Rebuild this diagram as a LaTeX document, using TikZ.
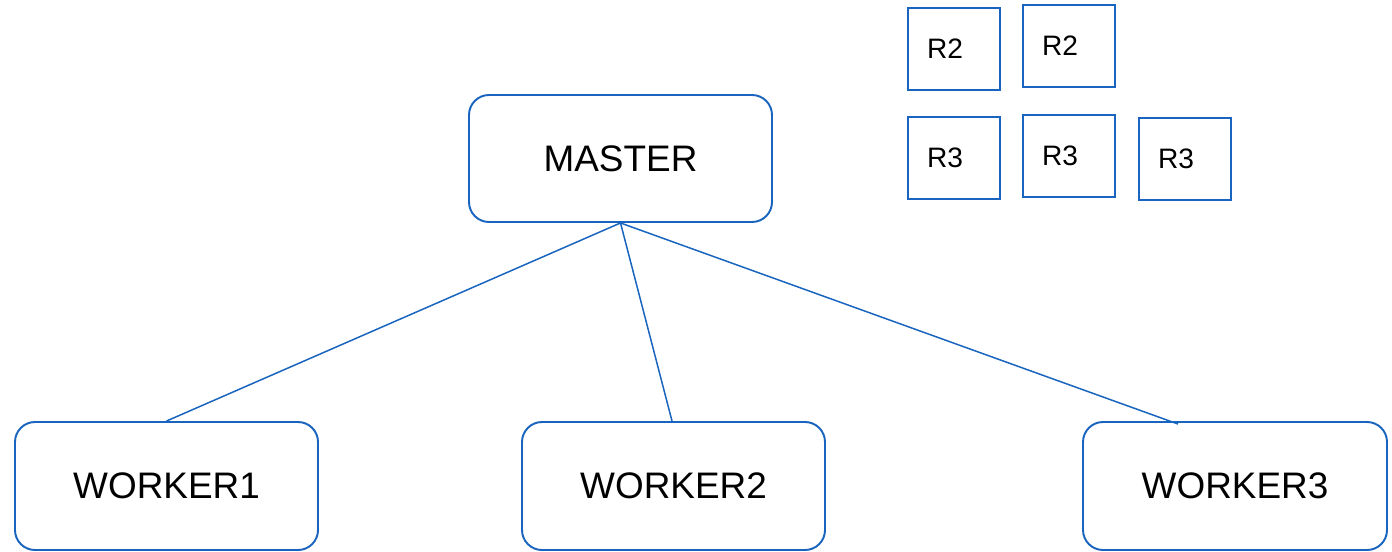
\documentclass[tikz,border=0pt]{standalone}
\usepackage{fontspec}
\setmainfont{Liberation Sans}
\definecolor{mwLine}{RGB}{25,100,190}
\usetikzlibrary{positioning}

\begin{document}
\begin{tikzpicture}[
    rolebox/.style={draw=mwLine, line width=1.1pt, rounded corners=0.4cm, fill=white,
        minimum width=6.06cm, minimum height=2.56cm, font=\fontsize{21}{25}\selectfont},
    rbox/.style={draw=mwLine, line width=1.1pt, fill=white, inner xsep=0.38cm,
        text width=1.08cm, align=left, minimum height=1.64cm, font=\fontsize{16}{19}\selectfont},
    link/.style={draw=mwLine, line width=0.85pt}
]
    \useasboundingbox (0,0) rectangle (27.84,11.02);

    % master and workers
    \node[rolebox, minimum height=2.54cm] (master) at (12.41,7.85) {MASTER};
    \node[rolebox] (w1) at (3.33,1.30) {WORKER1};
    \node[rolebox] (w2) at (13.47,1.30) {WORKER2};
    \node[rolebox, minimum width=6.08cm] (w3) at (24.70,1.30) {WORKER3};

    % replica blocks
    \node[rbox] (r2a) at (19.08,10.04) {R2};
    \node[rbox] (r2b) at (21.38,10.10) {R2};
    \node[rbox] (r3a) at (19.08,7.86) {R3};
    \node[rbox] (r3b) at (21.38,7.90) {R3};
    \node[rbox] (r3c) at (23.70,7.84) {R3};

    % links (worker3 end sits left of its centre)
    \coordinate (w3in) at ([xshift=-1.14cm,yshift=-0.06cm]w3.north);
    \draw[link] (master.south) -- (w1.north);
    \draw[link] (master.south) -- ([xshift=-0.03cm]w2.north);
    \draw[link] (master.south) -- (w3in);
\end{tikzpicture}
\end{document}
